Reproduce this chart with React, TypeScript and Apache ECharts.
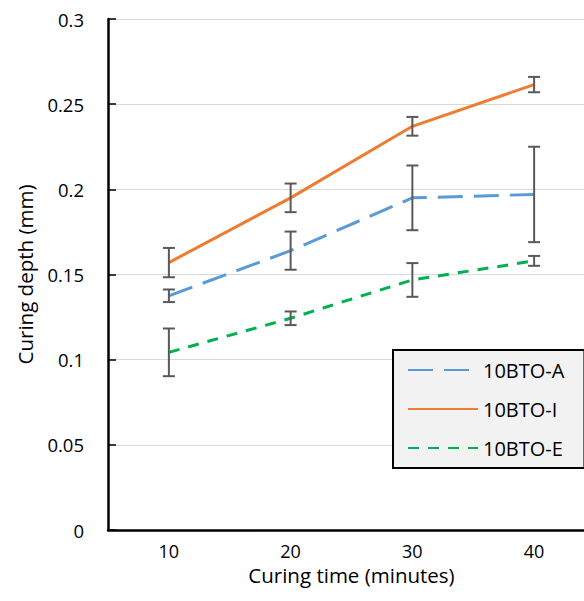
import React, { useEffect, useRef } from "react";
import * as echarts from "echarts";

const categories = ["10", "20", "30", "40"];
const seriesNames = ["10BTO-A", "10BTO-I", "10BTO-E"];
const aValues = [0.1375, 0.164, 0.195, 0.197];
const aErr = [0.0037, 0.0112, 0.019, 0.028];
const iValues = [0.157, 0.195, 0.237, 0.2615];
const iErr = [0.0086, 0.0084, 0.0055, 0.0045];
const eValues = [0.1043, 0.1243, 0.1468, 0.158];
const eErr = [0.014, 0.004, 0.0099, 0.0029];
const yTicks = [0, 0.05, 0.1, 0.15, 0.2, 0.25, 0.3];

const FONT = "Open Sans";

function errData(vals: number[], errs: number[]) {
  return vals.map((v, i) => [i, v - errs[i], v + errs[i]]);
}

function errSeries(vals: number[], errs: number[]) {
  return {
    type: "custom",
    silent: true,
    z: 5,
    data: errData(vals, errs),
    encode: { x: 0, y: [1, 2] },
    renderItem: (params: any, api: any) => {
      const x = api.value(0);
      const lo = api.coord([x, api.value(1)]);
      const hi = api.coord([x, api.value(2)]);
      const cap = 6;
      const style = { stroke: "#595959", lineWidth: 2 };
      return {
        type: "group",
        children: [
          { type: "line", shape: { x1: lo[0], y1: lo[1], x2: hi[0], y2: hi[1] }, style },
          { type: "line", shape: { x1: lo[0] - cap, y1: lo[1], x2: lo[0] + cap, y2: lo[1] }, style },
          { type: "line", shape: { x1: hi[0] - cap, y1: hi[1], x2: hi[0] + cap, y2: hi[1] }, style },
        ],
      };
    },
  };
}

export default function App() {
  const ref = useRef<HTMLDivElement>(null);
  useEffect(() => {
    document.body.style.margin = "0";
    const chart = echarts.init(ref.current!, null, { renderer: "svg" });
    chart.setOption({
      animation: false,
      backgroundColor: "#ffffff",
      grid: { left: 108, top: 19, bottom: 71, right: 0, containLabel: false },
      legend: {
        orient: "vertical",
        left: 393,
        top: 350,
        data: seriesNames,
        backgroundColor: "#f2f2f2",
        borderColor: "#000000",
        borderWidth: 2,
        borderRadius: 0,
        padding: [10, 20, 10, 14],
        itemGap: 19,
        itemWidth: 70,
        itemHeight: 14,
        itemStyle: { opacity: 0 },
        textStyle: { fontFamily: FONT, fontSize: 20, color: "#000000" },
      },
      xAxis: {
        type: "category",
        data: categories,
        boundaryGap: true,
        axisLine: { lineStyle: { color: "#000000", width: 2.5 } },
        axisTick: { show: false },
        axisLabel: { fontFamily: FONT, fontSize: 18, color: "#000000", margin: 12 },
        name: "Curing time (minutes)",
        nameLocation: "middle",
        nameGap: 33,
        nameTextStyle: { fontFamily: FONT, fontSize: 20.5, color: "#000000" },
      },
      yAxis: {
        type: "value",
        min: 0,
        max: 0.3,
        interval: 0.05,
        axisLine: { show: true, lineStyle: { color: "#000000", width: 2.5 } },
        axisTick: { show: true, inside: true, length: 8, lineStyle: { color: "#000000", width: 1.5 } },
        splitLine: { show: true, lineStyle: { color: "#d9d9d9", width: 1 } },
        axisLabel: {
          fontFamily: FONT,
          fontSize: 18.5,
          color: "#000000",
          margin: 24,
          formatter: (v: number) => {
            const t = yTicks.find((k) => Math.abs(k - v) < 1e-9);
            return String(t !== undefined ? t : v);
          },
        },
        name: "Curing depth (mm)",
        nameLocation: "middle",
        nameGap: 73,
        nameTextStyle: { fontFamily: FONT, fontSize: 20.5, color: "#000000" },
      },
      series: [
        {
          name: seriesNames[0],
          type: "line",
          data: aValues,
          showSymbol: false,
          symbol: "none",
          z: 3,
          lineStyle: { color: "#5B9BD5", width: 3, type: [25, 11] },
          itemStyle: { color: "#5B9BD5" },
        },
        {
          name: seriesNames[1],
          type: "line",
          data: iValues,
          showSymbol: false,
          symbol: "none",
          z: 3,
          lineStyle: { color: "#ED7D31", width: 3, type: "solid" },
          itemStyle: { color: "#ED7D31" },
        },
        {
          name: seriesNames[2],
          type: "line",
          data: eValues,
          showSymbol: false,
          symbol: "none",
          z: 3,
          lineStyle: { color: "#00B050", width: 3, type: [11, 9] },
          itemStyle: { color: "#00B050" },
        },
        errSeries(aValues, aErr),
        errSeries(iValues, iErr),
        errSeries(eValues, eErr),
      ],
    });
    return () => chart.dispose();
  }, []);
  return (
    <div style={{ width: 584, height: 601, overflow: "hidden", position: "relative" }}>
      <div ref={ref} style={{ width: 595, height: 601 }} />
    </div>
  );
}
